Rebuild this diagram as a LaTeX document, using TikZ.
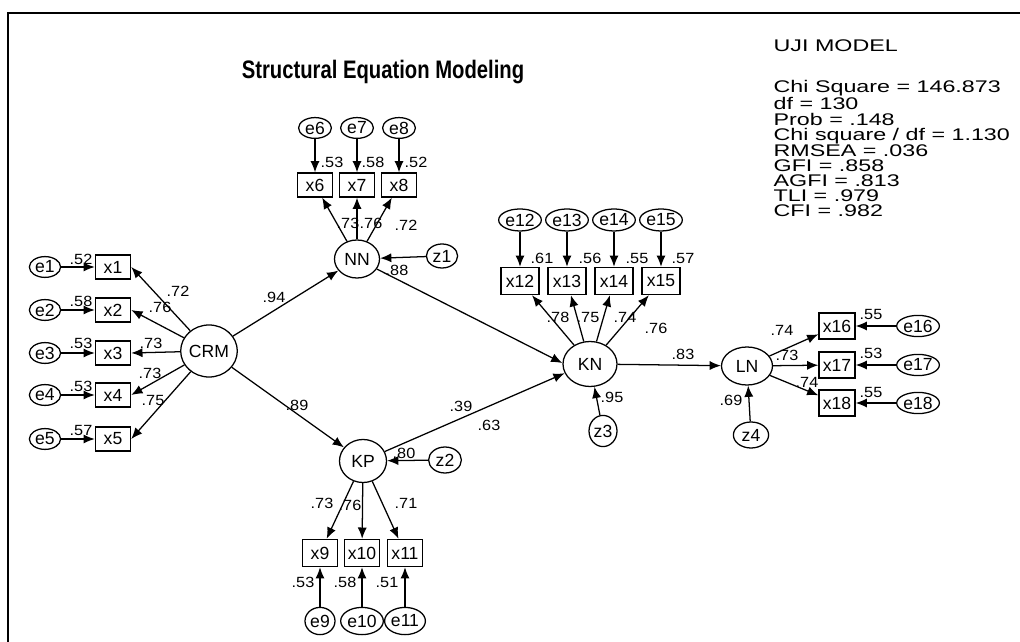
\documentclass[tikz,border=0pt]{standalone}
\usepackage{fontspec}
\setmainfont{Liberation Sans}
\newfontfamily\statfont[FakeStretch=1.38]{Liberation Sans}
\newfontfamily\lblfont[FakeStretch=1.1]{Liberation Sans}
\newfontfamily\titlefont[FakeStretch=0.8]{Liberation Sans}
\usetikzlibrary{arrows.meta,positioning,shapes.geometric}

\begin{document}
\begin{tikzpicture}[x=0.025cm,y=0.025cm,line width=0.9pt,>={Latex[length=8pt,width=6.5pt]},
every node/.style={font=\fontsize{12.5}{14}\selectfont},
lat/.style={draw,ellipse,inner sep=0pt},
obs/.style={draw,rectangle,inner sep=1pt,minimum width=0.88cm,minimum height=0.6cm},
err/.style={draw,ellipse,on grid,inner sep=0.3pt,minimum width=0.78cm,minimum height=0.52cm},
lbl/.style={font=\lblfont\fontsize{10.5}{12}\selectfont,inner sep=0pt}]
\useasboundingbox (0,0) rectangle (1020,-642);
\draw[line width=1.3pt] (1020,-13) -- (8,-13) -- (8,-642);
\node (title) [font=\titlefont\bfseries\fontsize{18}{20}\selectfont] at (383,-72) {Structural Equation Modeling};
\node (uji) [anchor=north west,inner sep=0pt,font=\statfont\fontsize{12}{10.7}\selectfont] at (773,-39) {UJI MODEL};
\node (fit) [anchor=north west,inner sep=0pt,align=left,font=\statfont\fontsize{12}{10.7}\selectfont] at (773,-80) {Chi Square = 146.873\\df = 130\\Prob = .148\\Chi square / df = 1.130\\RMSEA = .036\\GFI = .858\\AGFI = .813\\TLI = .979\\CFI = .982};
\node (crm) [lat,minimum width=1.3cm,minimum height=1.3cm] at (209,-351) {CRM};
\node (nn) [lat,minimum width=1.125cm,minimum height=0.95cm] at (357,-259) {NN};
\node (kp) [lat,minimum width=1.175cm,minimum height=1.075cm] at (363,-461) {KP};
\node (kn) [lat,minimum width=1.35cm,minimum height=1.125cm] at (590,-364) {KN};
\node (ln) [lat,minimum width=1.275cm,minimum height=0.95cm] at (747,-366) {LN};
\node (x1) [obs] at (113,-267) {x1};
\node (x2) [obs] at (113,-310) {x2};
\node (x3) [obs] at (113,-353) {x3};
\node (x4) [obs] at (113,-395) {x4};
\node (x5) [obs] at (113,-439) {x5};
\node (e1) [err,left=1.7cm of x1] {e1};
\node (e2) [err,left=1.7cm of x2] {e2};
\node (e3) [err,left=1.7cm of x3] {e3};
\node (e4) [err,left=1.7cm of x4] {e4};
\node (e5) [err,left=1.7cm of x5] {e5};
\node (x6) [obs] at (315,-185) {x6};
\node (x7) [obs] at (357,-185) {x7};
\node (x8) [obs] at (399,-185) {x8};
\node (e6) [err,above=1.425cm of x6,minimum width=0.82cm] {e6};
\node (e7) [err,above=1.425cm of x7,minimum width=0.82cm] {e7};
\node (e8) [err,above=1.425cm of x8,minimum width=0.82cm] {e8};
\node (z1) [err,minimum width=0.78cm,minimum height=0.6cm] at (442,-256) {z1};
\node (x9) [obs,minimum height=0.68cm] at (320,-553) {x9};
\node (x10) [obs,minimum height=0.68cm] at (362,-553) {x10};
\node (x11) [obs,minimum height=0.68cm] at (405,-553) {x11};
\node (e9) [err,below=1.7cm of x9,minimum width=0.75cm,minimum height=0.68cm] {e9};
\node (e10) [err,below=1.7cm of x10,minimum width=0.75cm,minimum height=0.68cm] {e10};
\node (e11) [err,below=1.7cm of x11,minimum width=0.75cm,minimum height=0.68cm] {e11};
\node (z2) [err,minimum width=0.82cm,minimum height=0.65cm] at (445,-460) {z2};
\node (x12) [obs,minimum width=0.95cm,minimum height=0.68cm] at (520,-281) {x12};
\node (x13) [obs,minimum width=0.95cm,minimum height=0.68cm] at (567,-281) {x13};
\node (x14) [obs,minimum width=0.95cm,minimum height=0.68cm] at (614,-281) {x14};
\node (x15) [obs,minimum width=0.95cm,minimum height=0.68cm] at (661,-281) {x15};
\node (e12) [err,above=1.525cm of x12,minimum width=0.9cm,minimum height=0.55cm] {e12};
\node (e13) [err,above=1.525cm of x13,minimum width=0.9cm,minimum height=0.55cm] {e13};
\node (e14) [err,above=1.525cm of x14,minimum width=0.9cm,minimum height=0.55cm] {e14};
\node (e15) [err,above=1.525cm of x15,minimum width=0.9cm,minimum height=0.55cm] {e15};
\node (z3) [err,minimum width=0.7cm,minimum height=0.78cm] at (603,-431) {z3};
\node (x16) [obs,minimum width=0.9cm,minimum height=0.65cm] at (837,-326) {x16};
\node (x17) [obs,minimum width=0.9cm,minimum height=0.65cm] at (837,-365) {x17};
\node (x18) [obs,minimum width=0.9cm,minimum height=0.65cm] at (837,-403) {x18};
\node (e16) [err,right=2.025cm of x16,minimum width=0.9cm,minimum height=0.53cm] {e16};
\node (e17) [err,right=2.025cm of x17,minimum width=0.9cm,minimum height=0.53cm] {e17};
\node (e18) [err,right=2.025cm of x18,minimum width=0.9cm,minimum height=0.53cm] {e18};
\node (z4) [err,minimum width=0.88cm,minimum height=0.65cm] at (751,-435) {z4};
\draw[->] (crm) -- (nn) node[lbl] at (274,-297) {.94};
\draw[->] (crm) -- (kp) node[lbl] at (297,-405) {.89};
\draw[->] (nn) -- (kn.178) node[lbl] at (461,-406) {.39};
\draw[->] (kp) -- (kn.200) node[lbl] at (489,-425) {.63};
\draw[->] (kn) -- (ln) node[lbl] at (683,-354) {.83};
\draw[->] (e1) -- (x1) node[lbl] at (81,-259) {.52};
\draw[->] (e2) -- (x2) node[lbl] at (81,-301) {.58};
\draw[->] (e3) -- (x3) node[lbl] at (81,-343) {.53};
\draw[->] (e4) -- (x4) node[lbl] at (81,-386) {.53};
\draw[->] (e5) -- (x5) node[lbl] at (81,-430) {.57};
\draw[->] (crm) -- (x1.east) node[lbl] at (178,-291) {.72};
\draw[->] (crm) -- (x2.east) node[lbl] at (160,-307) {.76};
\draw[->] (crm) -- (x3.east) node[lbl] at (151,-343) {.73};
\draw[->] (crm) -- (x4.east) node[lbl] at (150,-373) {.73};
\draw[->] (crm) -- (x5.east) node[lbl] at (153,-400) {.75};
\draw[->] (nn) -- (x6) node[lbl] at (348,-223) {.73};
\draw[->] (nn) -- (x7) node[lbl] at (371,-223) {.76};
\draw[->] (nn) -- (x8) node[lbl] at (406,-225) {.72};
\draw[->] (e6) -- (x6) node[lbl] at (332,-162) {.53};
\draw[->] (e7) -- (x7) node[lbl] at (373,-162) {.58};
\draw[->] (e8) -- (x8) node[lbl] at (416,-162) {.52};
\draw[->] (z1) -- (nn) node[lbl] at (397,-270) {.88};
\draw[->] (kp) -- (x9) node[lbl] at (322,-503) {.73};
\draw[->] (kp) -- (x10) node[lbl] at (350,-505) {.76};
\draw[->] (kp) -- (x11) node[lbl] at (406,-503) {.71};
\draw[->] (e9) -- (x9) node[lbl] at (303,-582) {.53};
\draw[->] (e10) -- (x10) node[lbl] at (345,-582) {.58};
\draw[->] (e11) -- (x11) node[lbl] at (387,-582) {.51};
\draw[->] (z2) -- (kp) node[lbl] at (404,-453) {.80};
\draw[->] (kn) -- (x12) node[lbl] at (558,-317) {.78};
\draw[->] (kn) -- (x13) node[lbl] at (588,-317) {.75};
\draw[->] (kn) -- (x14) node[lbl] at (625,-317) {.74};
\draw[->] (kn) -- (x15) node[lbl] at (656,-328) {.76};
\draw[->] (e12) -- (x12) node[lbl] at (542,-258) {.61};
\draw[->] (e13) -- (x13) node[lbl] at (590,-258) {.56};
\draw[->] (e14) -- (x14) node[lbl] at (637,-258) {.55};
\draw[->] (e15) -- (x15) node[lbl] at (683,-258) {.57};
\draw[->] (z3) -- (kn) node[lbl] at (612,-397) {.95};
\draw[->] (ln) -- (x16) node[lbl] at (782,-330) {.74};
\draw[->] (ln) -- (x17) node[lbl] at (787,-355) {.73};
\draw[->] (ln) -- (x18) node[lbl] at (807,-382) {.74};
\draw[->] (e16) -- (x16) node[lbl] at (871,-314) {.55};
\draw[->] (e17) -- (x17) node[lbl] at (871,-353) {.53};
\draw[->] (e18) -- (x18) node[lbl] at (871,-392) {.55};
\draw[->] (z4) -- (ln) node[lbl] at (731,-400) {.69};
\end{tikzpicture}
\end{document}
